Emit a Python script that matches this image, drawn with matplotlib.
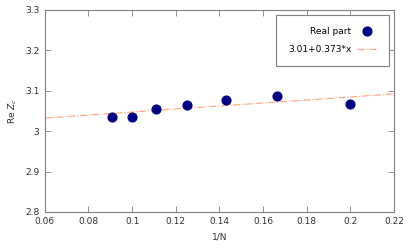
import matplotlib
matplotlib.use('Agg')
import matplotlib.pyplot as plt
import numpy as np

# datos
inv_n = [1/11, 1/10, 1/9, 1/8, 1/7, 1/6, 1/5]
re_zc = [3.0355, 3.036, 3.056, 3.064, 3.0775, 3.088, 3.066]
fit_a = 3.01
fit_b = 0.373

plt.rcParams['font.family'] = 'DejaVu Sans'
plt.rcParams['font.size'] = 6.5

fig = plt.figure(figsize=(4.15, 2.49), dpi=100)
ax = fig.add_axes([0.108, 0.149, 0.841, 0.811])

ax.plot(inv_n, re_zc, 'o', color='#000080', markersize=6.3, label='Real part', zorder=3)
xs = np.linspace(0.06, 0.22, 50)
ax.plot(xs, fit_a + fit_b * xs, color='#ffa07a', linestyle='-.', linewidth=0.8,
        label='3.01+0.373*x', zorder=2)

ax.set_xlim(0.06, 0.22)
ax.set_ylim(2.8, 3.3)
ax.set_xticks(np.arange(0.06, 0.221, 0.02))
ax.set_xticklabels(['0.06', '0.08', '0.1', '0.12', '0.14', '0.16', '0.18', '0.2', '0.22'])
ax.set_yticks(np.arange(2.8, 3.31, 0.1))
ax.set_yticklabels(['2.8', '2.9', '3', '3.1', '3.2', '3.3'])
ax.tick_params(direction='in', top=True, right=True, length=4, width=0.6,
               color='#808080', colors='#303030', pad=4)
for s in ax.spines.values():
    s.set_color('#808080')
    s.set_linewidth(0.8)

ax.set_xlabel('1/N', color='#303030')
ax.set_ylabel(r'Re $Z_c$', color='#303030')

leg = ax.legend(loc='upper right', markerfirst=False, fancybox=False, framealpha=1,
                edgecolor='#808080', borderpad=1.35, labelspacing=0.95,
                handlelength=2.2, handletextpad=0.6, borderaxespad=0,
                bbox_to_anchor=(0.986, 0.975))
leg.get_frame().set_linewidth(0.8)
for t in leg.get_texts():
    t.set_ha('right')

fig.savefig('out.png', dpi=100)
